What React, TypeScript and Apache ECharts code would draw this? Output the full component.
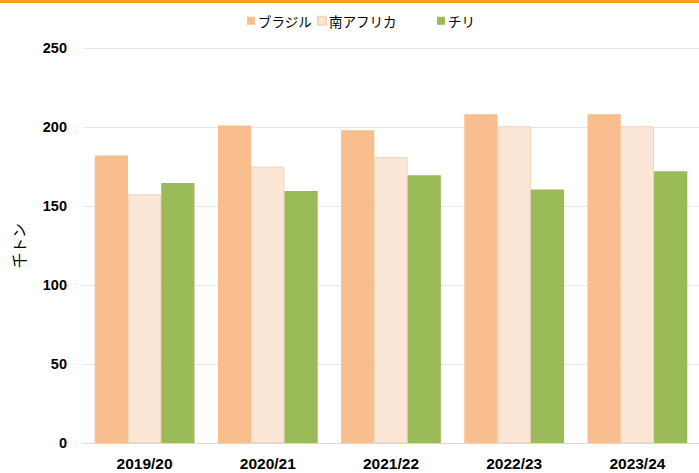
import React, { useEffect, useRef } from "react";
import * as echarts from "echarts";

const categories = ["2019/20", "2020/21", "2021/22", "2022/23", "2023/24"];
const brazil = [182, 201, 198, 208, 208];
const southAfrica = [157.5, 175, 181, 200.5, 200.5];
const chile = [164.5, 159.5, 169.5, 160.5, 172];
const seriesNames = ["ブラジル", "南アフリカ", "チリ"];
const yTicks = { min: 0, max: 250, interval: 50 };

export default function App() {
  const ref = useRef<HTMLDivElement>(null);
  useEffect(() => {
    const chart = echarts.init(ref.current!, null, { renderer: "svg" });
    const font = "'Liberation Sans', Arial, sans-serif";
    const jp = "'Noto Sans CJK JP', sans-serif";
    const legendText = { fontSize: 13.5, color: "#000", fontFamily: jp, padding: [0, 0, 0, -2] };
    chart.setOption({
      animation: false,
      graphic: [
        { type: "rect", left: 0, top: 0, shape: { width: 699, height: 3 }, style: { fill: "#F7A11A" } },
      ],
      legend: [
        {
          data: [seriesNames[0], seriesNames[1]],
          left: 242,
          top: 9,
          itemWidth: 8,
          itemHeight: 8,
          itemGap: 5,
          icon: "rect",
          textStyle: legendText,
        },
        {
          data: [seriesNames[2]],
          left: 432,
          top: 9,
          itemWidth: 8,
          itemHeight: 8,
          icon: "rect",
          textStyle: legendText,
        },
      ],
      grid: { left: 83, right: -3, top: 48, bottom: 30, containLabel: false },
      xAxis: {
        type: "category",
        data: categories,
        axisLine: { lineStyle: { color: "#d9d9d9" } },
        axisTick: { show: false },
        axisLabel: { fontSize: 15.5, fontWeight: "bold", color: "#000", fontFamily: font, margin: 12 },
      },
      yAxis: {
        type: "value",
        min: yTicks.min,
        max: yTicks.max,
        interval: yTicks.interval,
        name: "千トン",
        nameLocation: "middle",
        nameRotate: 90,
        nameGap: 57,
        nameTextStyle: { fontSize: 15, color: "#000", fontFamily: jp },
        axisLine: { show: false },
        axisTick: { show: false },
        splitLine: { lineStyle: { color: "#e6e6e6" } },
        axisLabel: { fontSize: 14.5, fontWeight: "bold", color: "#000", fontFamily: font, margin: 16 },
      },
      series: [
        { name: seriesNames[0], type: "bar", data: brazil, barGap: "0%", barCategoryGap: "19%", itemStyle: { color: "#F9BE8E" } },
        { name: seriesNames[1], type: "bar", data: southAfrica, itemStyle: { color: "#FCE6D6", borderColor: "#F6D3BB", borderWidth: 1 } },
        { name: seriesNames[2], type: "bar", data: chile, itemStyle: { color: "#9BBB59" } },
      ],
    });
    return () => chart.dispose();
  }, []);
  return <div ref={ref} style={{ width: 699, height: 473, position: "fixed", left: 0, top: 0, background: "#fff" }} />;
}
